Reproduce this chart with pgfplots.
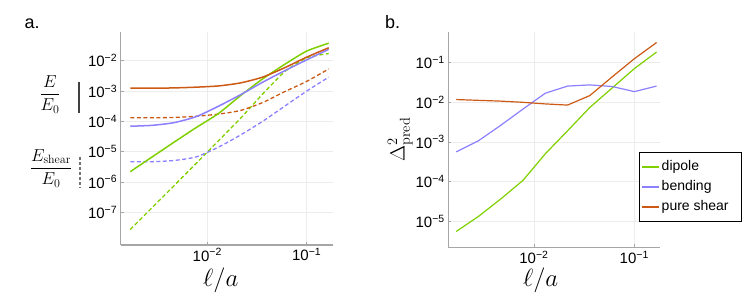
\documentclass[border=0pt]{standalone}
\usepackage[no-math]{fontspec}
\setmainfont{Liberation Sans}
\usepackage{pgfplots}
\pgfplotsset{compat=1.18}
\definecolor{cgreen}{RGB}{128,208,0}
\definecolor{cblue}{RGB}{140,128,255}
\definecolor{corange}{RGB}{205,90,20}
\newcommand{\tl}[1]{10\textsuperscript{−#1}}
\pgfplotsset{
 mystyle/.style={
  scale only axis,
  axis x line*=bottom, axis y line*=left,
  axis line style={-, draw=gray!70, line width=1.1pt},
  tick style={draw=gray!70, line width=0.8pt},
  major tick length=3pt, minor tick length=0pt, tick align=inside,
  grid=major, major grid style={draw=gray!15, line width=0.7pt},
  ticklabel style={font=\fontsize{15}{17}\selectfont},
  xlabel style={font=\fontsize{24}{28}\selectfont, anchor=center},
  ylabel style={font=\fontsize{22}{26}\selectfont, anchor=center},
  clip=false,
 }
}
\begin{document}
\begin{tikzpicture}[x=1pt,y=1pt]
\useasboundingbox (0,0) rectangle (747,299);
% ---------------- panel a ----------------
\begin{loglogaxis}[mystyle, at={(120.7pt,54pt)}, anchor=south west,
  width=212.3pt, height=213.3pt,
  xmin=0.001346, xmax=0.1841, ymin=8.318e-9, ymax=0.0912,
  xtick={0.01,0.1}, xticklabels={\tl{2},\tl{1}},
  ytick={1e-7,1e-6,1e-5,1e-4,1e-3,1e-2},
  yticklabels={\tl{7},\tl{6},\tl{5},\tl{4},\tl{3},\tl{2}},
  xlabel={$\ell/a$},
  xlabel style={at={(axis description cs:0.4717,-0.164)}},
]
% dipole dashed
\addplot[cgreen, line width=1.3pt, dash pattern=on 4pt off 2.5pt, smooth, tension=0.3] coordinates {
 (0.001680,2.692e-8) (0.002799,1.445e-7) (0.004666,7.762e-7) (0.007776,4.169e-6) (0.01296,2.291e-5)
 (0.0216,1.259e-4) (0.036,7.943e-4) (0.06,0.004365) (0.1,0.01259) (0.1667,0.01738)};
% bending dashed
\addplot[cblue, line width=1.3pt, dash pattern=on 4pt off 2.5pt, smooth, tension=0.4] coordinates {
 (0.001680,4.677e-6) (0.002799,4.677e-6) (0.004666,5.129e-6) (0.007776,6.761e-6) (0.01296,1.413e-5)
 (0.0216,3.548e-5) (0.036,1e-4) (0.06,3.162e-4) (0.1,1e-3) (0.1667,0.002884)};
% pure shear dashed
\addplot[corange, line width=1.3pt, dash pattern=on 4pt off 2.5pt, smooth, tension=0.4] coordinates {
 (0.001680,1.318e-4) (0.002799,1.318e-4) (0.004666,1.349e-4) (0.007776,1.479e-4) (0.01296,1.738e-4)
 (0.0216,2.291e-4) (0.036,4.169e-4) (0.06,9.550e-4) (0.1,0.002089) (0.1667,0.005370)};
% dipole solid
\addplot[cgreen, line width=1.5pt, smooth, tension=0.4] coordinates {
 (0.001680,2.188e-6) (0.002799,6.761e-6) (0.004666,2.089e-5) (0.007776,6.310e-5) (0.01296,1.820e-4)
 (0.0216,7.079e-4) (0.036,0.002512) (0.06,0.007586) (0.1,0.02089) (0.1667,0.03802)};
% bending solid
\addplot[cblue, line width=1.5pt, smooth, tension=0.4] coordinates {
 (0.001680,6.918e-5) (0.002799,7.413e-5) (0.004666,9.120e-5) (0.007776,1.445e-4) (0.01296,3.162e-4)
 (0.0216,7.586e-4) (0.036,0.001950) (0.06,0.004677) (0.1,0.01072) (0.1667,0.02399)};
% pure shear solid
\addplot[corange, line width=1.5pt, smooth, tension=0.4] coordinates {
 (0.001680,0.001242) (0.002799,0.001242) (0.004666,0.001274) (0.007776,0.001349) (0.01296,0.001479)
 (0.0216,0.001862) (0.036,0.002884) (0.06,0.005888) (0.1,0.01318) (0.1667,0.02692)};
\end{loglogaxis}
% ---------------- panel b ----------------
\begin{loglogaxis}[mystyle, at={(448.3pt,51.7pt)}, anchor=south west,
  width=211.7pt, height=215.6pt,
  xmin=0.0014, xmax=0.1803, ymin=2.188e-6, ymax=0.6067,
  xtick={0.01,0.1}, xticklabels={\tl{2},\tl{1}},
  ytick={1e-5,1e-4,1e-3,1e-2,1e-1},
  yticklabels={\tl{5},\tl{4},\tl{3},\tl{2},\tl{1}},
  xlabel={$\ell/a$},
  xlabel style={at={(axis description cs:0.4365,-0.152)}},
  ylabel={$\Delta^2_{\mathrm{pred}}$},
  ylabel style={at={(axis description cs:-0.2267,0.5)}},
  legend cell align=left,
  legend style={at={(axis description cs:0.902,0.4406)}, anchor=north west,
    draw=black, inner xsep=2pt, inner ysep=4.5pt, row sep=0pt,
    font=\fontsize{14}{16}\selectfont,
    nodes={text height=10pt, text depth=3pt, inner ysep=3.5pt, inner xsep=2pt}},
]
\addplot[cgreen, line width=1.2pt] coordinates {
 (0.001680,5.495e-6) (0.002799,1.318e-5) (0.004666,3.631e-5) (0.007776,1.072e-4) (0.01296,5.012e-4)
 (0.0216,0.001905) (0.036,0.007413) (0.06,0.02291) (0.1,0.07079) (0.1667,0.1862)};
\addlegendentry{dipole}
\addplot[cblue, line width=1.2pt] coordinates {
 (0.001680,5.623e-4) (0.002799,0.001072) (0.004666,0.002630) (0.007776,0.006761) (0.01296,0.01698)
 (0.0216,0.02570) (0.036,0.02754) (0.06,0.02512) (0.1,0.01862) (0.1667,0.02570)};
\addlegendentry{bending}
\addplot[corange, line width=1.2pt] coordinates {
 (0.001680,0.01175) (0.002799,0.01122) (0.004666,0.01072) (0.007776,0.01) (0.01296,0.009120)
 (0.0216,0.008511) (0.036,0.01479) (0.06,0.04365) (0.1,0.1259) (0.1667,0.3236)};
\addlegendentry{pure shear\hspace*{9pt}}
\end{loglogaxis}
% ---------------- annotations ----------------
\node[font=\fontsize{18}{20}\selectfont, anchor=base west, inner sep=0pt] at (24.5,270.7) {a.};
\node[font=\fontsize{18}{20}\selectfont, anchor=base west, inner sep=0pt] at (385,270.7) {b.};
\node[font=\fontsize{17}{20}\selectfont, inner sep=0pt] at (50,204.7) {$\displaystyle\frac{E}{E_0}$};
\draw[black!75, line width=1.1pt] (79,217.3) -- (79,185.7);
\node[font=\fontsize{17}{20}\selectfont, inner sep=0pt] at (51,130.7) {$\displaystyle\frac{E_{\mathrm{shear}}}{E_0}$};
\draw[black!55, line width=1.1pt, dash pattern=on 3pt off 2pt] (80,142.3) -- (80,110.7);
\end{tikzpicture}
\end{document}
